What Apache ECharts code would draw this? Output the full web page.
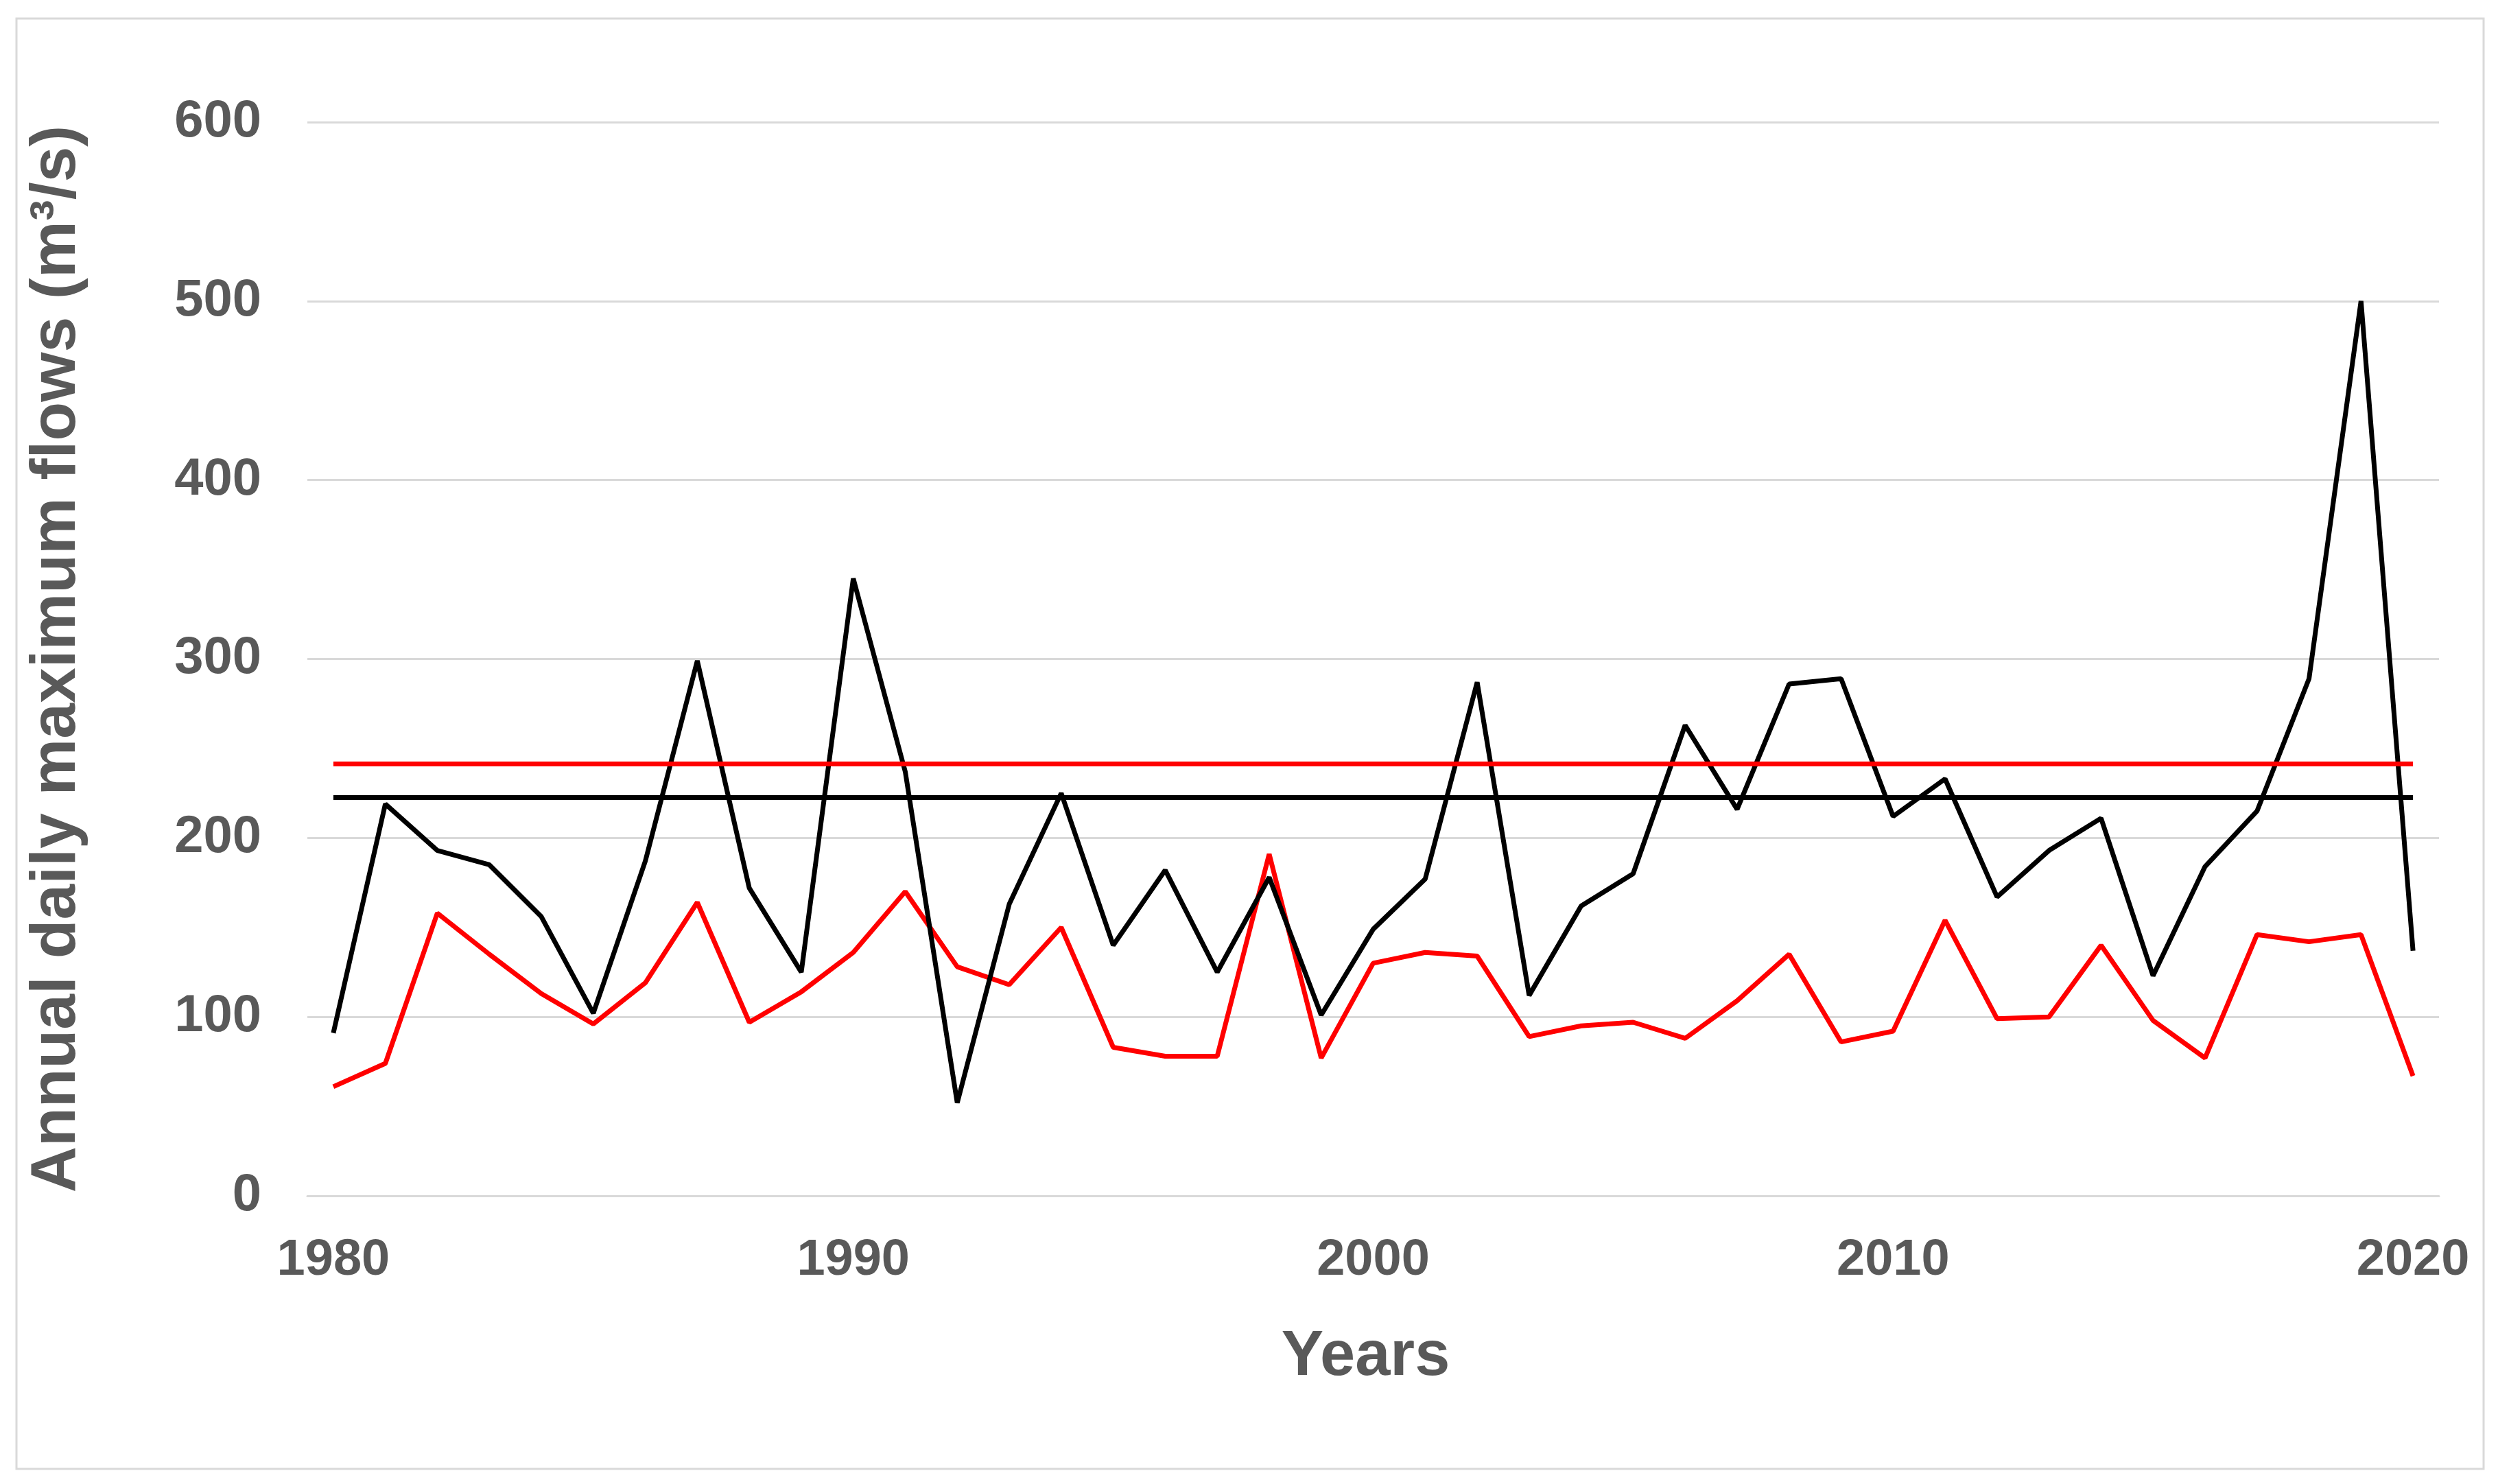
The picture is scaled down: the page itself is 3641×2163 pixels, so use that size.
<!DOCTYPE html>
<html>
<head>
<meta charset="utf-8">
<script src="https://cdn.jsdelivr.net/npm/echarts@6/dist/echarts.min.js"></script>
<style>
  html, body { margin: 0; padding: 0; background: #ffffff; }
  #chart { width: 3641px; height: 2163px; }
</style>
</head>
<body>
<div id="chart"></div>
<script>
const years = [];
for (let y = 1980; y <= 2020; y++) years.push(String(y));

const blackFlows = [91, 219, 193, 185, 156, 102, 187, 299, 172, 125, 345, 237,
  52, 163, 225, 140, 182, 125, 178, 101, 149, 177, 287, 112,
  162, 180, 263, 216, 286, 289, 212, 233, 167, 193, 211, 123, 184, 215, 289, 500, 137];

const redFlows = [61, 74, 158, 135, 113, 96, 119, 164, 97, 114, 136, 170,
  128, 118, 150, 83, 78, 78, 191, 77, 130, 136, 134, 89,
  95, 97, 88, 109, 135, 86, 92, 154, 99, 100, 140, 98, 77, 146, 142, 146, 67];

const blackLevel = 222.7;
const redLevel = 241.5;

const yTicks = { min: 0, max: 600, interval: 100 };

const FONT = '"Liberation Sans", Arial, sans-serif';
const TEXT_COLOR = '#595959';
const GRID_COLOR = '#d9d9d9';

const chart = echarts.init(document.getElementById('chart'), null, { renderer: 'canvas' });

function levelLine(value, color) {
  return {
    silent: true,
    symbol: 'none',
    label: { show: false },
    lineStyle: { color: color, width: 7, type: 'solid' },
    data: [[{ coord: [years[0], value] }, { coord: [years[years.length - 1], value] }]]
  };
}

chart.setOption({
  backgroundColor: '#ffffff',
  animation: false,
  graphic: [{
    type: 'rect',
    shape: { x: 24, y: 27, width: 3596, height: 2114 },
    style: { fill: 'none', stroke: GRID_COLOR, lineWidth: 3 },
    silent: true,
    z: -1
  }],
  grid: {
    left: 448, top: 178, width: 3107, height: 1565,
    containLabel: false,
    outerBoundsMode: 'none'
  },
  xAxis: {
    type: 'category',
    data: years,
    boundaryGap: true,
    name: 'Years',
    nameLocation: 'middle',
    nameGap: 190,
    nameTextStyle: { fontFamily: FONT, fontWeight: 'bold', fontSize: 92, color: TEXT_COLOR, padding: [0, 22, 0, 0] },
    axisLine: { show: true, lineStyle: { color: GRID_COLOR, width: 3 } },
    axisTick: { show: false },
    axisLabel: {
      interval: 9,
      margin: 58,
      fontFamily: FONT, fontWeight: 'bold', fontSize: 74, color: TEXT_COLOR
    },
    splitLine: { show: false }
  },
  yAxis: {
    type: 'value',
    min: yTicks.min, max: yTicks.max, interval: yTicks.interval,
    name: 'Annual daily maximum flows (m³/s)',
    nameLocation: 'middle',
    nameRotate: 90,
    nameGap: 318,
    nameTextStyle: { fontFamily: FONT, fontWeight: 'bold', fontSize: 93, color: TEXT_COLOR },
    axisLine: { show: false },
    axisTick: { show: false },
    axisLabel: {
      margin: 67,
      fontFamily: FONT, fontWeight: 'bold', fontSize: 76, color: TEXT_COLOR
    },
    splitLine: { show: true, lineStyle: { color: GRID_COLOR, width: 3 } }
  },
  series: [
    {
      name: 'Series 1',
      type: 'line',
      data: blackFlows,
      symbol: 'none',
      lineStyle: { color: '#000000', width: 7 },
      itemStyle: { color: '#000000' },
      z: 3,
      markLine: levelLine(blackLevel, '#000000')
    },
    {
      name: 'Series 2',
      type: 'line',
      data: redFlows,
      symbol: 'none',
      lineStyle: { color: '#ff0000', width: 7 },
      itemStyle: { color: '#ff0000' },
      z: 2,
      markLine: levelLine(redLevel, '#ff0000')
    }
  ]
});
</script>
</body>
</html>
